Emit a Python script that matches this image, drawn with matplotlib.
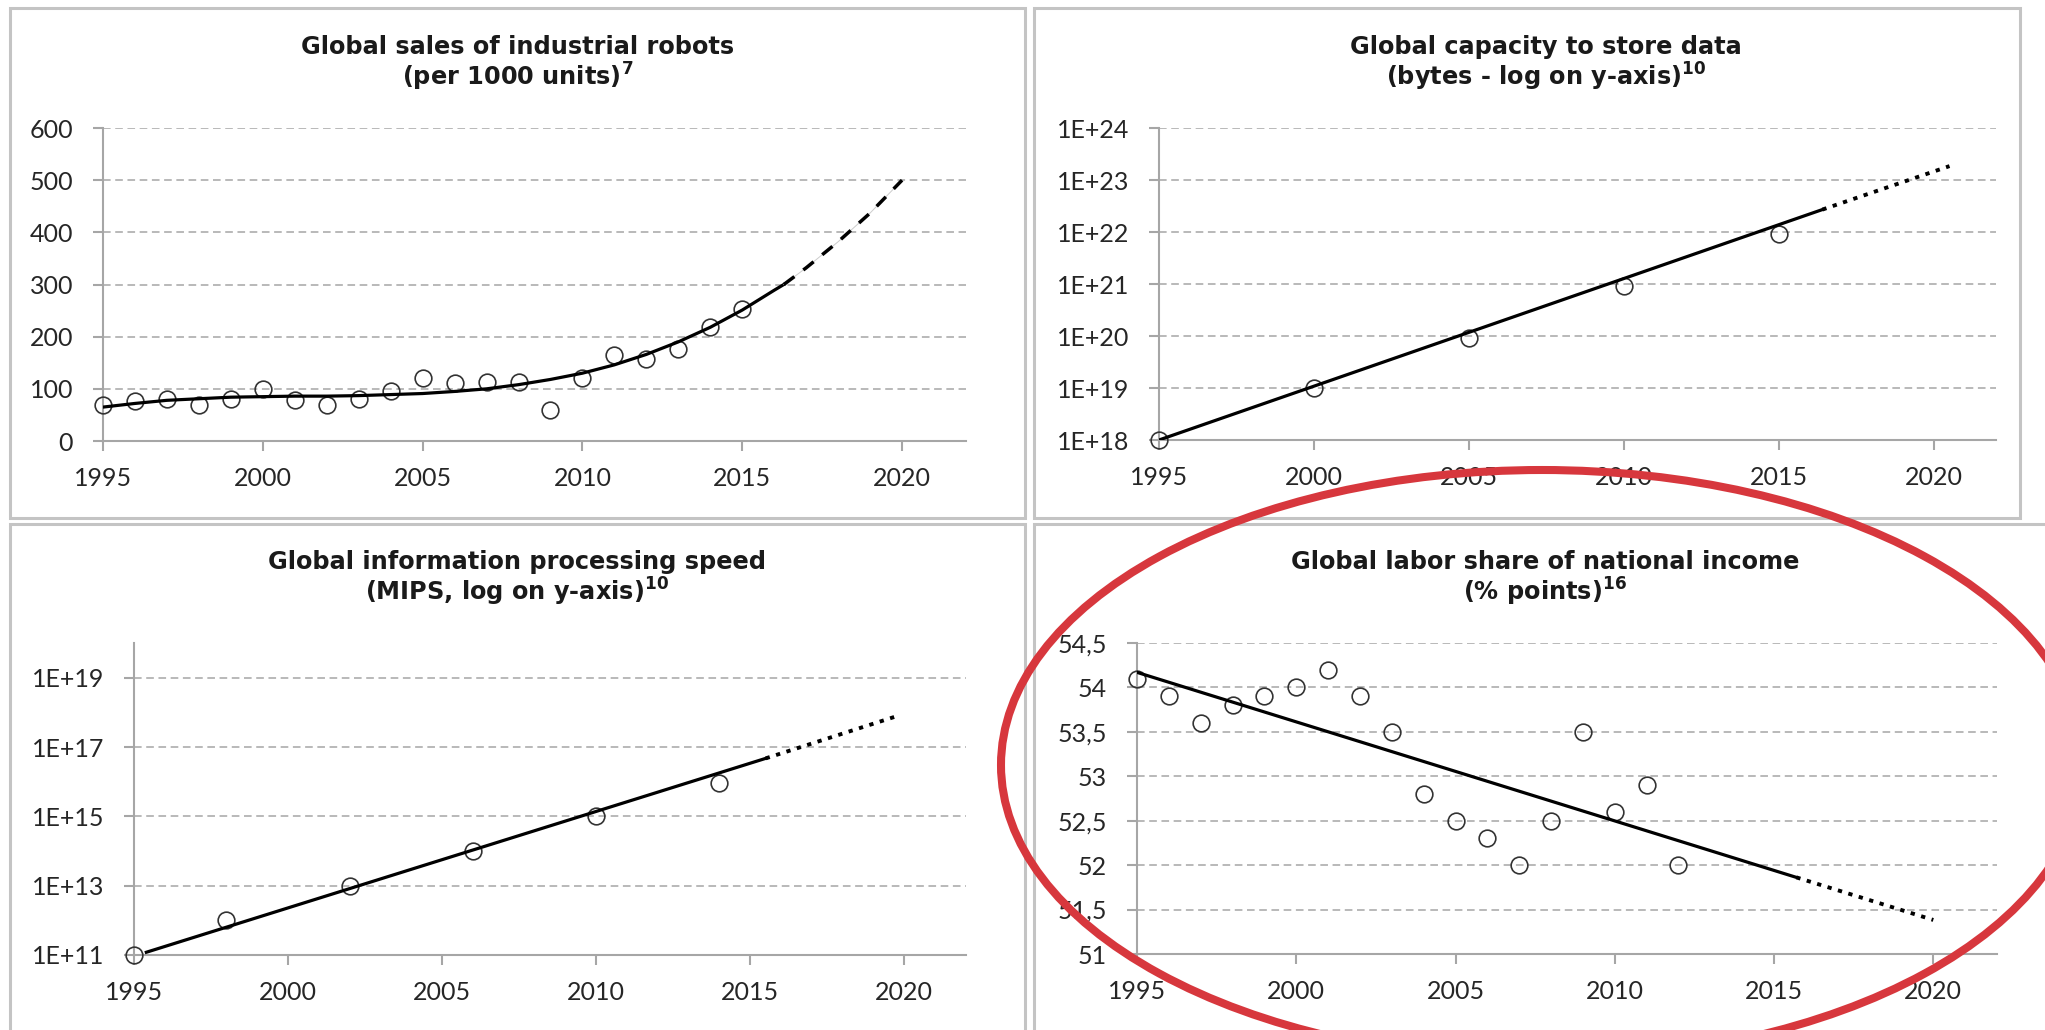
import numpy as np
import matplotlib.pyplot as plt
from matplotlib.patches import Rectangle, Ellipse
from matplotlib.ticker import NullLocator

plt.rcParams['font.family'] = ['Lato', 'DejaVu Sans']
plt.rcParams['mathtext.fontset'] = 'dejavusans'

# ---- data ----
years_ticks = [1995, 2000, 2005, 2010, 2015, 2020]

# robots (per 1000 units)
robot_years = list(range(1995, 2016))
robot_sales = [69, 76, 80, 69, 80, 99, 78, 69, 81, 95, 120, 111, 113, 114, 60,
               121, 165, 158, 177, 219, 253]
robot_trend_years = [1995, 1996, 1997, 1998, 1999, 2000, 2001, 2002, 2003, 2004,
                     2005, 2006, 2007, 2008, 2009, 2010, 2011, 2012, 2013, 2014,
                     2015, 2016, 2016.3, 2017, 2018, 2019, 2020]
robot_trend = [65, 72, 78, 81, 84, 85, 86, 86, 87, 89, 91, 95, 100, 108, 118,
               130, 146, 166, 190, 218, 251, 289, 300, 332, 382, 437, 500]
robot_split = 22  # index where the forecast (dashed) part starts
robot_yticks = [0, 100, 200, 300, 400, 500, 600]

# data storage (bytes)
storage_years = [1995, 2000, 2005, 2010, 2015]
storage_bytes = [1e18, 1e19, 9e19, 9e20, 9e21]
storage_trend_years = [1995, 2016.4, 2020.5]
storage_trend = [1e18, 2.7e22, 1.85e23]
storage_yticks = [1e18, 1e19, 1e20, 1e21, 1e22, 1e23, 1e24]
storage_ylabels = ['1E+18', '1E+19', '1E+20', '1E+21', '1E+22', '1E+23', '1E+24']

# processing speed (MIPS)
mips_years = [1995, 1998, 2002, 2006, 2010, 2014]
mips = [1e11, 1e12, 1e13, 1e14, 1e15, 9e15]
mips_trend_years = [1995.4, 2015.5, 2019.8]
mips_trend = [1.2e11, 4.7e16, 8e17]
mips_yticks = [1e11, 1e13, 1e15, 1e17, 1e19]
mips_ylabels = ['1E+11', '1E+13', '1E+15', '1E+17', '1E+19']

# labor share (% points)
labor_years = list(range(1995, 2013))
labor_share = [54.1, 53.9, 53.6, 53.8, 53.9, 54.0, 54.2, 53.9, 53.5, 52.8,
               52.5, 52.3, 52.0, 52.5, 53.5, 52.6, 52.9, 52.0]
labor_trend_years = [1995, 2015.7, 2020]
labor_yticks = [51, 51.5, 52, 52.5, 53, 53.5, 54, 54.5]
labor_ylabels = ['51', '51,5', '52', '52,5', '53', '53,5', '54', '54,5']

W, H = 2045, 1030
axis_gray = '#a6a6a6'
grid_gray = '#a6a6a6'
text_col = '#262626'

fig = plt.figure(figsize=(W / 100, H / 100), dpi=100)


def px_axes(left, top, right, bottom):
    return fig.add_axes([left / W, 1 - bottom / H, (right - left) / W, (bottom - top) / H])


def style(ax, yticks, ylabels, ylim, log=False):
    if log:
        ax.set_yscale('log')
    ax.set_xlim(1995, 2022)
    ax.set_ylim(*ylim)
    ax.set_xticks(years_ticks)
    ax.set_xticklabels([str(y) for y in years_ticks])
    ax.set_yticks(yticks)
    ax.set_yticklabels(ylabels)
    ax.yaxis.set_minor_locator(NullLocator())
    ax.xaxis.set_minor_locator(NullLocator())
    for s in ['top', 'right']:
        ax.spines[s].set_visible(False)
    for s in ['left', 'bottom']:
        ax.spines[s].set_color(axis_gray)
        ax.spines[s].set_linewidth(1.5)
    ax.tick_params(axis='both', length=7.5, width=1.5, color=axis_gray,
                   labelsize=18, labelcolor=text_col)
    ax.tick_params(axis='y', pad=14)
    ax.tick_params(axis='x', pad=11)
    ax.yaxis.grid(True, color=grid_gray, linestyle=(0, (5, 3)), linewidth=1.1)
    ax.set_axisbelow(True)


def points(ax, x, y):
    ax.plot(x, y, 'o', mfc='none', mec='#333333', ms=12, mew=1.2,
            clip_on=False, zorder=3)


dotted = (0, (1.1, 1.7))
dot_lw = 2.8

# ---- top left: robots ----
ax1 = px_axes(103, 128, 966, 441)
style(ax1, robot_yticks, [str(v) for v in robot_yticks], (0, 600))
points(ax1, robot_years, robot_sales)
ax1.plot(robot_trend_years[:robot_split + 1], robot_trend[:robot_split + 1],
         color='black', lw=2.3, zorder=4)
ax1.plot(robot_trend_years[robot_split:], robot_trend[robot_split:],
         color='#cccccc', lw=0.7, zorder=4)
ax1.plot(robot_trend_years[robot_split:], robot_trend[robot_split:],
         color='black', lw=2.5, linestyle=(0, (3.8, 3.2)), zorder=4)

# ---- top right: storage ----
ax2 = px_axes(1159, 128, 1996, 440)
style(ax2, storage_yticks, storage_ylabels, (1e18, 1e24), log=True)
points(ax2, storage_years, storage_bytes)
ax2.plot(storage_trend_years[:2], storage_trend[:2], color='black', lw=2.3, zorder=4)
ax2.plot(storage_trend_years[1:], storage_trend[1:], color='black', lw=dot_lw,
         linestyle=dotted, zorder=4)

# ---- bottom left: MIPS ----
ax3 = px_axes(134, 643, 966, 955)
style(ax3, mips_yticks, mips_ylabels, (1e11, 1e20), log=True)
points(ax3, mips_years, mips)
ax3.plot(mips_trend_years[:2], mips_trend[:2], color='black', lw=2.3, zorder=4)
ax3.plot(mips_trend_years[1:], mips_trend[1:], color='black', lw=dot_lw,
         linestyle=dotted, zorder=4)

# ---- bottom right: labor share ----
ax4 = px_axes(1137, 643, 1997, 954)
style(ax4, labor_yticks, labor_ylabels, (51, 54.5))
points(ax4, labor_years, labor_share)
coef = np.polyfit(labor_years, labor_share, 1)
labor_trend = np.polyval(coef, labor_trend_years)
ax4.plot(labor_trend_years[:2], labor_trend[:2], color='black', lw=2.3, zorder=4)
ax4.plot(labor_trend_years[1:], labor_trend[1:], color='black', lw=dot_lw,
         linestyle=dotted, zorder=4)

# ---- titles ----
title_kw = dict(ha='center', va='center', fontsize=17.3, fontweight='bold',
                family=['DejaVu Sans'], color='#1a1a1a')
titles = [
    (518, 47, 'Global sales of industrial robots', '(per 1000 units)', '7'),
    (1546, 47, 'Global capacity to store data', '(bytes - log on y-axis)', '10'),
    (517, 562, 'Global information processing speed', '(MIPS, log on y-axis)', '10'),
    (1545, 562, 'Global labor share of national income', '(% points)', '16'),
]
for x, y, l1, l2, note in titles:
    fig.text(x / W, 1 - y / H, l1, **title_kw)
    fig.text(x / W, 1 - (y + 30) / H, l2 + r'$^{\mathbf{' + note + '}}$', **title_kw)

# ---- panel frames ----
boxes = [(10, 8, 1025, 518), (1034, 8, 2020, 518),
         (10, 524, 1025, 1045), (1034, 524, 2060, 1045)]
for x0, y0, x1, y1 in boxes:
    fig.add_artist(Rectangle((x0 / W, 1 - y1 / H), (x1 - x0) / W, (y1 - y0) / H,
                             transform=fig.transFigure, fill=False,
                             ec='#c4c4c4', lw=2.2))

# ---- red highlight ----
fig.add_artist(Ellipse((1542 / W, 1 - 765 / H), 1082 / W, 590 / H,
                       transform=fig.transFigure, fill=False,
                       ec='#d7373d', lw=5.8, zorder=10))

fig.savefig('out.png', dpi=100)
